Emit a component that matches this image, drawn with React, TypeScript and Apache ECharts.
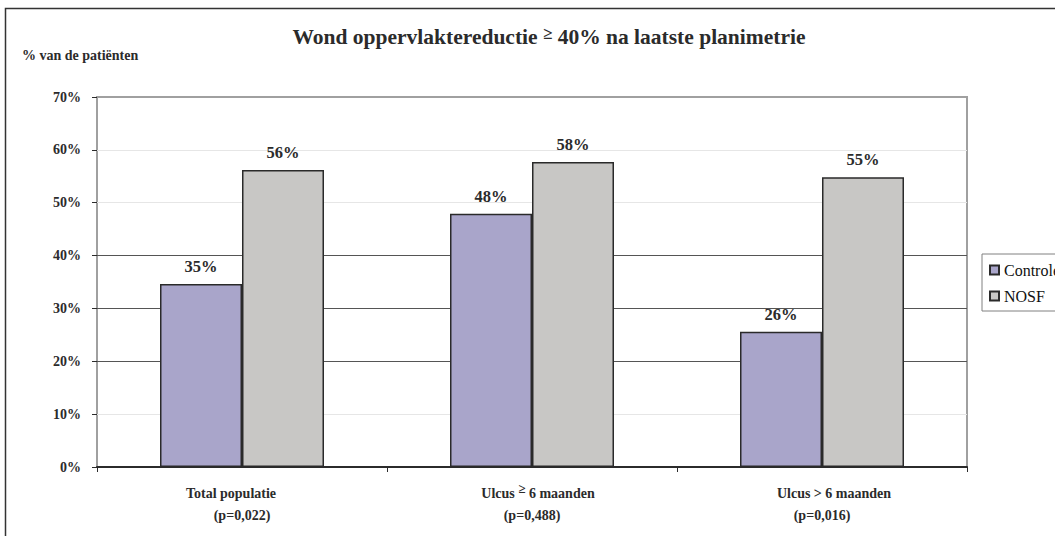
import React, { useEffect, useRef } from "react";
import * as echarts from "echarts";

// Share of patients with >= 40% wound area reduction at the last planimetry
const categories = ["Total populatie", "Ulcus ≥ 6 maanden", "Ulcus > 6 maanden"];
const pValues = ["(p=0,022)", "(p=0,488)", "(p=0,016)"];
const seriesNames = ["Controle", "NOSF"];
const controleValues = [34.6, 47.9, 25.6];
const nosfValues = [56.2, 57.7, 54.8];
const yMin = 0;
const yMax = 70;
const yStep = 10;

const FONT = "'Liberation Serif', 'Times New Roman', serif";
const INK = "#2b2b2b";

// horizontal nudge (px) of the first line of each category label
const labelShift = [-11, 6, 12];

const baseLabel = { fontFamily: FONT, fontWeight: "bold" as const, fontSize: 14, color: INK, lineHeight: 22 };

function buildRich() {
  const rich: Record<string, any> = {
    t: { ...baseLabel },
    s: { ...baseLabel, fontSize: 13, lineHeight: 16, verticalAlign: "top" },
    p: { ...baseLabel },
  };
  labelShift.forEach((s, i) => {
    rich["f" + i] = { ...baseLabel, padding: s > 0 ? [0, 0, 0, 2 * s] : [0, 0, 0, 0] };
    rich["l" + i] = { ...baseLabel, padding: s < 0 ? [0, -2 * s, 0, 0] : [0, 0, 0, 0] };
  });
  return rich;
}

function categoryLabel(value: string, index: number) {
  const parts = value.split("≥");
  let line: string;
  if (parts.length === 1) {
    const s = labelShift[index];
    const style = s > 0 ? "f" + index : "l" + index;
    line = `{${style}|${value}}`;
  } else {
    line = `{f${index}|${parts[0]}}{s|≥}{l${index}|${parts[1]}}`;
  }
  return `${line}\n{p|${pValues[index]}}`;
}

export default function App() {
  const ref = useRef<HTMLDivElement>(null);

  useEffect(() => {
    document.body.style.margin = "0";
    if (!ref.current) return;
    const chart = echarts.init(ref.current, undefined, { renderer: "svg" });

    const barLabel = {
      show: true,
      position: "top" as const,
      distance: 9,
      fontFamily: FONT,
      fontWeight: "bold" as const,
      fontSize: 16.5,
      color: INK,
      formatter: (p: any) => `${Math.round(p.value)}%`,
    };

    chart.setOption({
      animation: false,
      backgroundColor: "#ffffff",
      graphic: [
        {
          type: "rect",
          shape: { x: 5.5, y: 8.5, width: 1100, height: 600 },
          style: { fill: "none", stroke: "#333", lineWidth: 1.5 },
          silent: true,
          z: -1,
        },
        {
          type: "text",
          x: 549,
          y: 37,
          style: {
            text: "{a|Wond oppervlaktereductie }{b|≥}{a| 40% na laatste planimetrie}",
            align: "center",
            verticalAlign: "middle",
            rich: {
              a: { fontFamily: FONT, fontWeight: "bold", fontSize: 21.5, fill: INK, lineHeight: 24 },
              b: { fontFamily: FONT, fontWeight: "bold", fontSize: 17, fill: INK, verticalAlign: "top", lineHeight: 17 },
            },
          },
        },
        {
          type: "text",
          x: 22,
          y: 55,
          style: {
            text: "% van de patiënten",
            fontFamily: FONT,
            fontWeight: "bold",
            fontSize: 14,
            fill: INK,
            align: "left",
            verticalAlign: "middle",
          },
        },
      ],
      legend: {
        data: seriesNames,
        orient: "vertical",
        left: 982,
        top: 254,
        itemWidth: 9,
        itemHeight: 9,
        itemGap: 10,
        icon: "rect",
        borderColor: "#808080",
        borderWidth: 1,
        padding: [8, 12, 7, 7],
        textStyle: { fontFamily: FONT, fontSize: 16, color: "#111" },
      },
      grid: {
        left: 97,
        top: 97,
        width: 870,
        height: 370,
        show: true,
        backgroundColor: "#ffffff",
        borderColor: "#a0a0a0",
        borderWidth: 2,
      },
      xAxis: {
        type: "category",
        data: categories,
        boundaryGap: true,
        axisLine: { show: true, lineStyle: { color: "#2b2b2b", width: 2 } },
        axisTick: { show: true, length: 5, lineStyle: { color: "#2b2b2b", width: 1 } },
        axisLabel: {
          interval: 0,
          margin: 15,
          formatter: categoryLabel,
          rich: buildRich(),
        },
        splitLine: { show: false },
      },
      yAxis: {
        type: "value",
        min: yMin,
        max: yMax,
        interval: yStep,
        axisLine: { show: false },
        axisTick: { show: true, length: 5, lineStyle: { color: "#2b2b2b", width: 1 } },
        axisLabel: {
          margin: 16,
          formatter: "{value}%",
          fontFamily: FONT,
          fontWeight: "bold",
          fontSize: 14,
          color: INK,
        },
        splitLine: {
          show: true,
          lineStyle: {
            width: 1,
            color: ["#e6e6e6", "#e6e6e6", "#555555", "#555555", "#555555", "#e6e6e6", "#e6e6e6", "#a0a0a0"],
          },
        },
      },
      series: [
        {
          name: seriesNames[0],
          type: "bar",
          data: controleValues,
          barWidth: 82,
          barGap: "0%",
          itemStyle: { color: "#a9a5ca", borderColor: "#2a2a2a", borderWidth: 1.5 },
          label: barLabel,
        },
        {
          name: seriesNames[1],
          type: "bar",
          data: nosfValues,
          barWidth: 82,
          barGap: "0%",
          itemStyle: { color: "#c8c7c5", borderColor: "#2a2a2a", borderWidth: 1.5 },
          label: barLabel,
        },
      ],
    });

    return () => chart.dispose();
  }, []);

  return <div ref={ref} style={{ width: 1055, height: 536 }} />;
}
